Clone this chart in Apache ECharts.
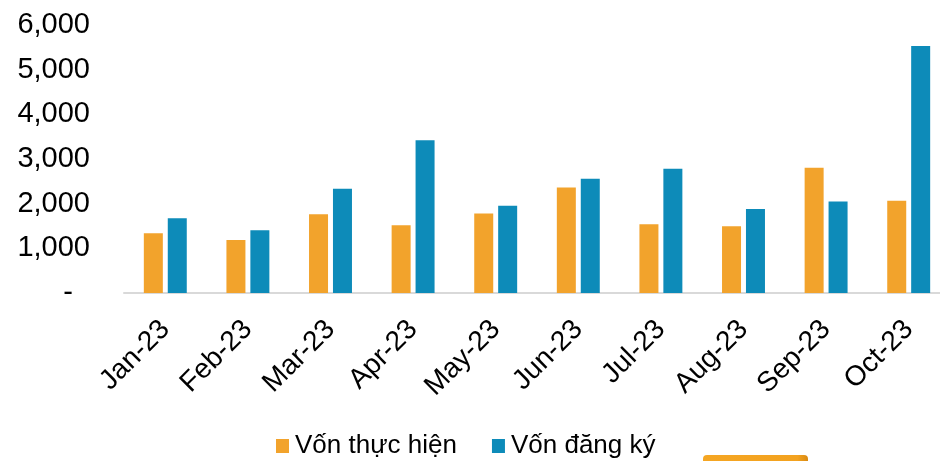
<!DOCTYPE html>
<html>
<head>
<meta charset="utf-8">
<script src="https://cdn.jsdelivr.net/npm/echarts@6/dist/echarts.min.js"></script>
<style>
  html, body { margin: 0; padding: 0; background: #fff; }
  #chart { width: 940px; height: 461px; }
</style>
</head>
<body>
<div id="chart"></div>
<script>
// số liệu
var months = ['Jan-23', 'Feb-23', 'Mar-23', 'Apr-23', 'May-23', 'Jun-23', 'Jul-23', 'Aug-23', 'Sep-23', 'Oct-23']
var vonThucHien = [1340, 1186, 1762, 1516, 1778, 2360, 1538, 1494, 2806, 2068]
var vonDangKy = [1672, 1404, 2336, 3418, 1956, 2560, 2784, 1882, 2046, 5530]
var yTicks = { min: 0, max: 6000, step: 1000 }

var font = 'Liberation Sans, Arial, sans-serif'
var chart = echarts.init(document.getElementById('chart'))

var option = {
  animation: false,
  backgroundColor: '#fff',
  // trục x chạy ra ngoài khung như ảnh gốc
  grid: { left: 124, width: 826, top: 25, bottom: 168, outerBoundsMode: 'none', containLabel: false },
  legend: {
    data: ['Vốn thực hiện', 'Vốn đăng ký'],
    left: 276,
    top: 431,
    padding: 0,
    icon: 'rect',
    itemWidth: 13,
    itemHeight: 14,
    itemGap: 35,
    textStyle: { fontFamily: font, fontSize: 26, color: '#000', lineHeight: 30, padding: [0, 0, 0, 1] }
  },
  xAxis: {
    type: 'category',
    data: months,
    axisLine: { lineStyle: { color: '#d9d9d9', width: 2 } },
    axisTick: { show: false },
    axisLabel: {
      rotate: 45,
      margin: 32,
      interval: 0,
      fontFamily: font,
      fontSize: 28,
      color: '#000'
    }
  },
  yAxis: {
    type: 'value',
    min: yTicks.min,
    max: yTicks.max,
    interval: yTicks.step,
    splitLine: { show: false },
    axisLine: { show: false },
    axisTick: { show: false },
    axisLabel: {
      margin: 34,
      fontFamily: font,
      fontSize: 29,
      color: '#000',
      formatter: function (v) {
        if (v === 0) return '{d|-}'
        return v.toLocaleString('en-US')
      },
      rich: {
        d: { fontFamily: font, fontSize: 29, color: '#000', padding: [0, 17, 0, 0] }
      }
    }
  },
  series: [
    {
      name: 'Vốn thực hiện',
      type: 'bar',
      data: vonThucHien,
      barWidth: 19,
      barGap: '26%',
      itemStyle: { color: '#F2A32C' }
    },
    {
      name: 'Vốn đăng ký',
      type: 'bar',
      data: vonDangKy,
      barWidth: 19,
      barGap: '26%',
      itemStyle: { color: '#0D8BB9' }
    }
  ],
  graphic: [
    {
      type: 'rect',
      left: 703,
      top: 455,
      shape: { width: 105, height: 12, r: 4 },
      style: {
        fill: new echarts.graphic.LinearGradient(0, 0, 1, 0, [
          { offset: 0, color: '#F5A623' },
          { offset: 0.9, color: '#F3A21F' },
          { offset: 1, color: '#D98A12' }
        ])
      }
    }
  ]
}

chart.setOption(option)
window.addEventListener('resize', chart.resize)
</script>
</body>
</html>
